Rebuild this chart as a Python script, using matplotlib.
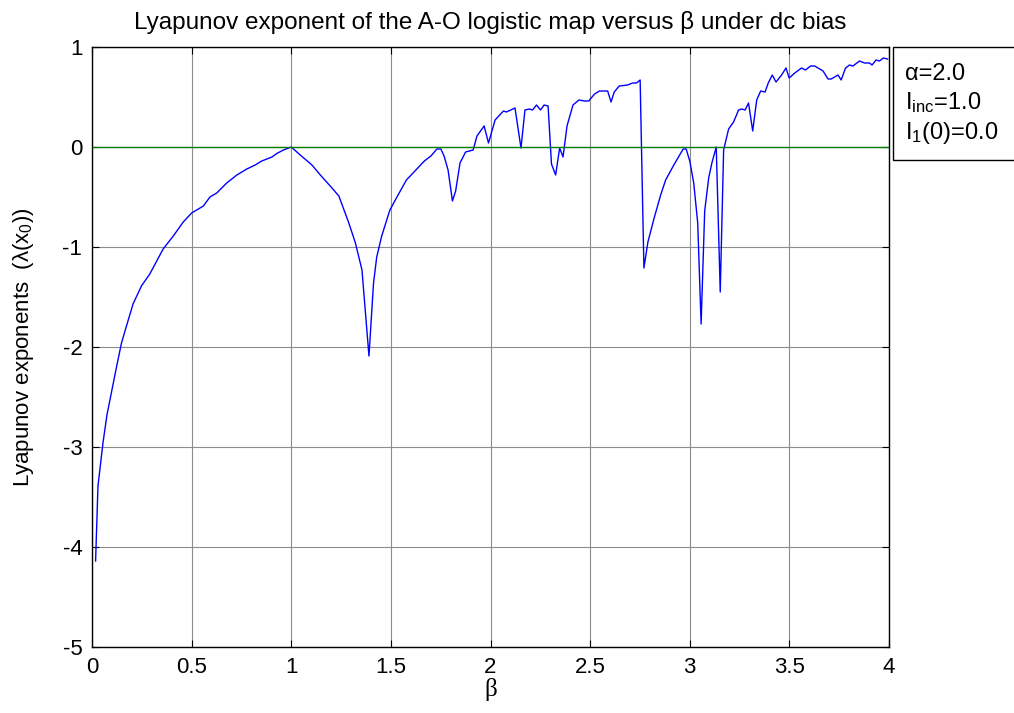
import matplotlib.pyplot as plt
import matplotlib.patches as patches
import numpy as np

plt.rcParams['font.family'] = ['Liberation Sans', 'DejaVu Sans']
plt.rcParams['axes.unicode_minus'] = False
plt.rcParams['mathtext.default'] = 'regular'

beta = [0.018, 0.03, 0.055, 0.075, 0.097, 0.122, 0.148, 0.173, 0.206, 0.248,
        0.29, 0.357, 0.408, 0.458, 0.5, 0.559, 0.592, 0.626, 0.676, 0.727,
        0.777, 0.819, 0.852, 0.903, 0.928, 0.961, 1.0, 1.045, 1.104, 1.146,
        1.2, 1.239, 1.289, 1.322, 1.355, 1.39, 1.413, 1.429, 1.454, 1.495,
        1.536, 1.578, 1.635, 1.668, 1.701, 1.731, 1.751, 1.767, 1.787, 1.809,
        1.825, 1.847, 1.875, 1.913, 1.932, 1.968, 1.99, 2.023, 2.065, 2.08,
        2.123, 2.153, 2.173, 2.194, 2.211, 2.231, 2.251, 2.269, 2.289, 2.306,
        2.327, 2.347, 2.364, 2.384, 2.414, 2.444, 2.472, 2.493, 2.522, 2.547,
        2.588, 2.605, 2.621, 2.646, 2.688, 2.713, 2.733, 2.751, 2.77, 2.79,
        2.82, 2.854, 2.879, 2.92, 2.967, 2.982, 3.0, 3.02, 3.04, 3.057,
        3.075, 3.095, 3.111, 3.133, 3.153, 3.17, 3.195, 3.22, 3.245, 3.261,
        3.278, 3.295, 3.316, 3.336, 3.356, 3.378, 3.394, 3.414, 3.433, 3.461,
        3.483, 3.499, 3.527, 3.561, 3.581, 3.606, 3.627, 3.669, 3.694, 3.71,
        3.744, 3.76, 3.782, 3.802, 3.819, 3.852, 3.877, 3.902, 3.915, 3.935,
        3.952, 3.972, 3.993]
lyap = [-4.14, -3.39, -2.96, -2.68, -2.46, -2.21, -1.96, -1.79, -1.57, -1.39,
        -1.27, -1.02, -0.89, -0.75, -0.66, -0.59, -0.5, -0.46, -0.36, -0.28,
        -0.22, -0.18, -0.14, -0.10, -0.064, -0.03, 0.0, -0.08, -0.18, -0.28,
        -0.40, -0.49, -0.76, -0.96, -1.23, -2.09, -1.36, -1.10, -0.89, -0.63,
        -0.48, -0.33, -0.21, -0.14, -0.09, -0.02, -0.02, -0.09, -0.23, -0.54,
        -0.44, -0.16, -0.05, -0.03, 0.11, 0.21, 0.04, 0.27, 0.36, 0.35,
        0.39, -0.01, 0.37, 0.38, 0.37, 0.42, 0.37, 0.42, 0.41, -0.17,
        -0.28, -0.01, -0.10, 0.21, 0.42, 0.47, 0.46, 0.46, 0.53, 0.56,
        0.56, 0.45, 0.55, 0.61, 0.62, 0.64, 0.64, 0.67, -1.21, -0.95,
        -0.72, -0.48, -0.33, -0.18, -0.02, -0.02, -0.14, -0.36, -0.76, -1.77,
        -0.64, -0.31, -0.16, 0.0, -1.45, -0.03, 0.18, 0.25, 0.37, 0.38,
        0.37, 0.44, 0.16, 0.47, 0.56, 0.55, 0.64, 0.72, 0.65, 0.72,
        0.79, 0.69, 0.74, 0.79, 0.77, 0.81, 0.81, 0.76, 0.68, 0.68,
        0.72, 0.67, 0.79, 0.82, 0.81, 0.86, 0.84, 0.84, 0.82, 0.87,
        0.86, 0.89, 0.88]

xticks = [0, 0.5, 1, 1.5, 2, 2.5, 3, 3.5, 4]
xticklabels = ['0', '0.5', '1', '1.5', '2', '2.5', '3', '3.5', '4']
yticks = [-5, -4, -3, -2, -1, 0, 1]

fig = plt.figure(figsize=(10.14, 7.13), dpi=100)
ax = fig.add_axes([92 / 1014, 1 - 647 / 713, 797 / 1014, 600 / 713])

ax.plot(beta, lyap, color='blue', lw=1)
ax.plot([0, 4], [0, 0], color=(0, 0.5, 0), lw=1)

ax.set_xlim(0, 4)
ax.set_ylim(-5, 1)
ax.set_xticks(xticks)
ax.set_xticklabels(xticklabels)
ax.set_yticks(yticks)
ax.grid(True, color='#8c8c8c', lw=0.8)
ax.tick_params(direction='in', top=True, right=True, labelsize=16, length=5, pad=7)
for s in ax.spines.values():
    s.set_linewidth(1)

ax.set_xlabel('β', fontsize=18, family=['Liberation Serif', 'DejaVu Serif'], labelpad=0)
ax.set_ylabel(r'Lyapunov exponents  ($\lambda$(x$_0$))', fontsize=16, labelpad=19)
ax.set_title('Lyapunov exponent of the A-O logistic map versus β under dc bias',
             fontsize=17.5, pad=13)

# parameter box to the right of the axes
box = patches.Rectangle((893 / 1014, 1 - 160 / 713), 0.2, 113 / 713,
                        transform=fig.transFigure, fill=False, ec='black', lw=1,
                        clip_on=False)
fig.patches.append(box)
fig.text(905 / 1014, 1 - 74 / 713, 'α=2.0', fontsize=17, va='center')
fig.text(905 / 1014, 1 - 103 / 713, r'I$_{inc}$=1.0', fontsize=17, va='center')
fig.text(905 / 1014, 1 - 133 / 713, r'I$_1$(0)=0.0', fontsize=17, va='center')

fig.savefig('out.png', dpi=100)
